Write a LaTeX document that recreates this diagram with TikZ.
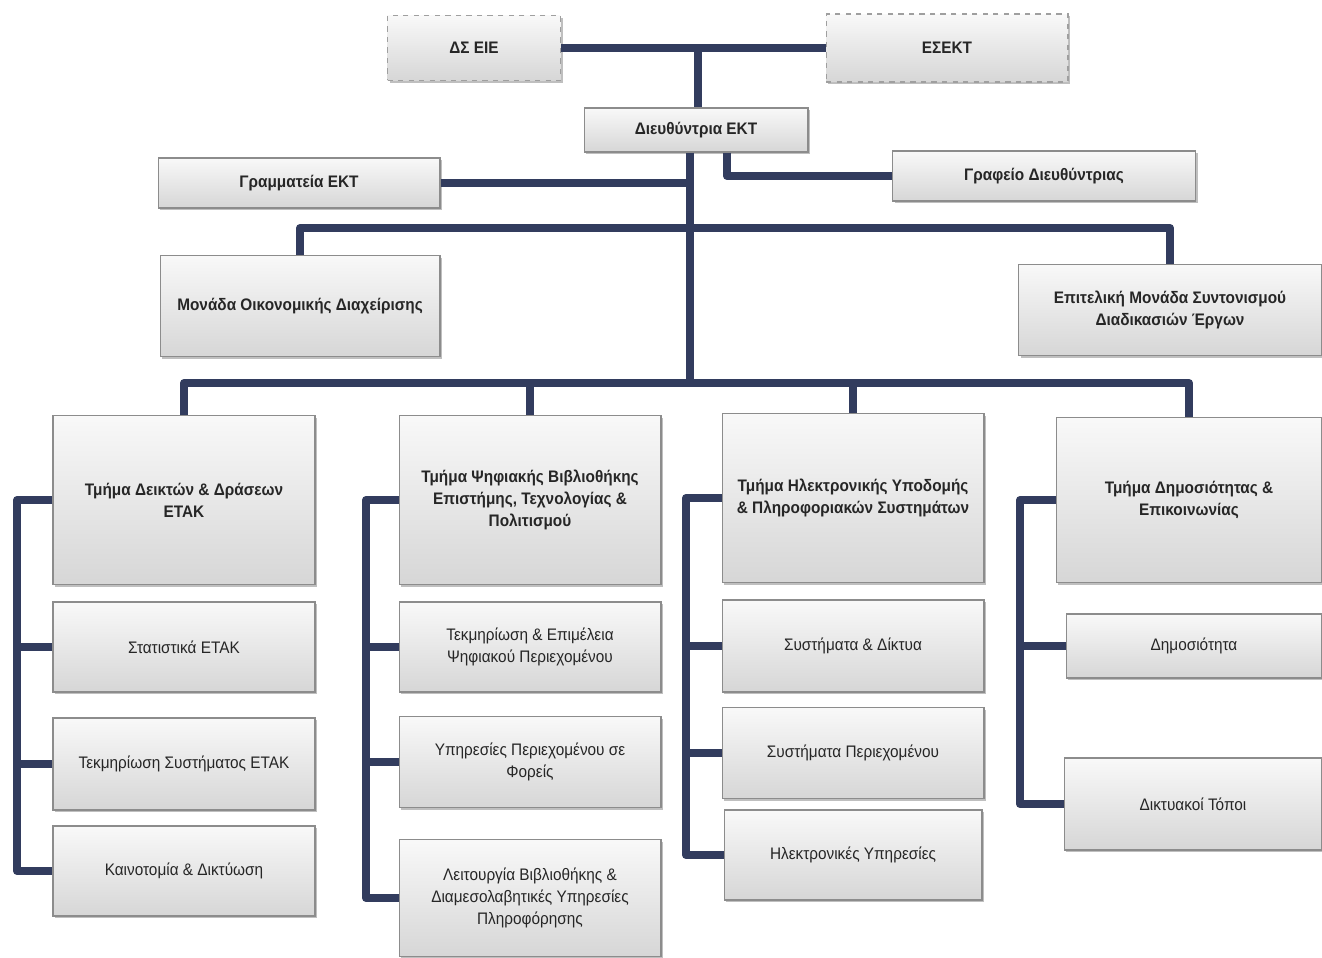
\documentclass[tikz,border=0pt]{standalone}
\usepackage{fontspec}
\setmainfont{Liberation Sans}[FakeStretch=0.92]
\usetikzlibrary{shadows}
\definecolor{linkblue}{HTML}{323C5E}
\definecolor{boxline}{HTML}{8C8C8C}
\tikzstyle{unit} = [rectangle, draw=boxline, line width=0.6pt, top color=gray!5, bottom color=gray!32,
	drop shadow={shadow xshift=1.3pt, shadow yshift=-1.3pt, fill=black!50},
	align=center, inner sep=2pt, text=black!85, font=\fontsize{9.5}{12.5}\selectfont]
\tikzstyle{head} = [unit, font=\bfseries\fontsize{9.5}{12.5}\selectfont]
\tikzstyle{board} = [head, dashed, draw=gray!75]
\tikzstyle{link} = [draw=linkblue, line width=4.5pt, line join=round]

\begin{document}
\begin{tikzpicture}[x=0.02cm, y=-0.02cm]
	\useasboundingbox (0,0) rectangle (1322,957);

	\node[board, minimum width=3.46cm, minimum height=1.3cm] (dsei) at (474,48) {ΔΣ ΕΙΕ};
	\node[board, minimum width=4.84cm, minimum height=1.36cm] (esekt) at (947,48) {ΕΣΕΚΤ};
	\node[head, minimum width=4.48cm, minimum height=0.88cm] (dir) at (696,130) {Διευθύντρια ΕΚΤ};
	\node[head, minimum width=5.64cm, minimum height=1cm] (gram) at (299,183) {Γραμματεία ΕΚΤ};
	\node[head, minimum width=6.06cm, minimum height=1cm] (graf) at (1044,176) {Γραφείο Διευθύντριας};
	\node[head, minimum width=5.6cm, minimum height=2.02cm] (oik) at (300,306) {Μονάδα Οικονομικής Διαχείρισης};
	\node[head, minimum width=6.06cm, minimum height=1.82cm] (epit) at (1170,310)
		{Επιτελική Μονάδα Συντονισμού\\Διαδικασιών Έργων};

	\node[head, minimum width=5.24cm, minimum height=3.38cm] (t1) at (184,500) {Τμήμα Δεικτών \& Δράσεων\\ΕΤΑΚ};
	\node[head, minimum width=5.24cm, minimum height=3.38cm] (t2) at (530,500)
		{Τμήμα Ψηφιακής Βιβλιοθήκης\\Επιστήμης, Τεχνολογίας \&\\Πολιτισμού};
	\node[head, minimum width=5.24cm, minimum height=3.38cm] (t3) at (853,498)
		{Τμήμα Ηλεκτρονικής Υποδομής\\\& Πληροφοριακών Συστημάτων};
	\node[head, minimum width=5.32cm, minimum height=3.3cm] (t4) at (1189,500) {Τμήμα Δημοσιότητας \&\\Επικοινωνίας};

	\node[unit, minimum width=5.24cm, minimum height=1.8cm] (t1a) at (184,647) {Στατιστικά ΕΤΑΚ};
	\node[unit, minimum width=5.24cm, minimum height=1.84cm] (t1b) at (184,764) {Τεκμηρίωση Συστήματος ΕΤΑΚ};
	\node[unit, minimum width=5.24cm, minimum height=1.8cm] (t1c) at (184,871) {Καινοτομία \& Δικτύωση};

	\node[unit, minimum width=5.24cm, minimum height=1.8cm] (t2a) at (530,647) {Τεκμηρίωση \& Επιμέλεια\\Ψηφιακού Περιεχομένου};
	\node[unit, minimum width=5.24cm, minimum height=1.82cm] (t2b) at (530,762) {Υπηρεσίες Περιεχομένου σε\\Φορείς};
	\node[unit, minimum width=5.24cm, minimum height=2.34cm] (t2c) at (530,898)
		{Λειτουργία Βιβλιοθήκης \&\\Διαμεσολαβητικές Υπηρεσίες\\Πληροφόρησης};

	\node[unit, minimum width=5.24cm, minimum height=1.84cm] (t3a) at (853,646) {Συστήματα \& Δίκτυα};
	\node[unit, minimum width=5.24cm, minimum height=1.82cm] (t3b) at (853,753) {Συστήματα Περιεχομένου};
	\node[unit, minimum width=5.16cm, minimum height=1.8cm] (t3c) at (853,855) {Ηλεκτρονικές Υπηρεσίες};

	\node[unit, minimum width=5.12cm, minimum height=1.28cm] (t4a) at (1194,646) {Δημοσιότητα};
	\node[unit, minimum width=5.16cm, minimum height=1.84cm] (t4b) at (1193,804) {Δικτυακοί Τόποι};

	\coordinate (top) at (698,48);
	\coordinate (trunk) at (690,383);
	\coordinate (mid) at (690,228);
	\coordinate (side) at (727,0);
	\coordinate (s1) at (17,0);
	\coordinate (s2) at (366,0);
	\coordinate (s3) at (686,0);
	\coordinate (s4) at (1020,0);

	\draw[link] (dsei.east) -- (esekt.west);
	\draw[link] (top) -- (top |- dir.north);
	\draw[link] (trunk |- dir.south) -- (trunk);
	\draw[link] (side |- dir.south) |- (graf.west);
	\draw[link] (gram.east) -- (gram.east -| trunk);
	\draw[link] (oik.north) |- (mid) -| (epit.north);
	\draw[link] (t1.north) |- (trunk) -| (t4.north);
	\draw[link] (t2.north) -- (t2.north |- trunk);
	\draw[link] (t3.north) -- (t3.north |- trunk);

	\draw[link] (t1.west) -| (s1 |- t1c.west) -- (t1c.west);
	\draw[link] (t2.west) -| (s2 |- t2c.west) -- (t2c.west);
	\draw[link] (t3.west) -| (s3 |- t3c.west) -- (t3c.west);
	\draw[link] (t4.west) -| (s4 |- t4b.west) -- (t4b.west);
	\foreach \n/\s in {t1a/s1, t1b/s1, t2a/s2, t2b/s2, t3a/s3, t3b/s3, t4a/s4}
		\draw[link] (\n.west) -- (\n.west -| \s);
\end{tikzpicture}
\end{document}
